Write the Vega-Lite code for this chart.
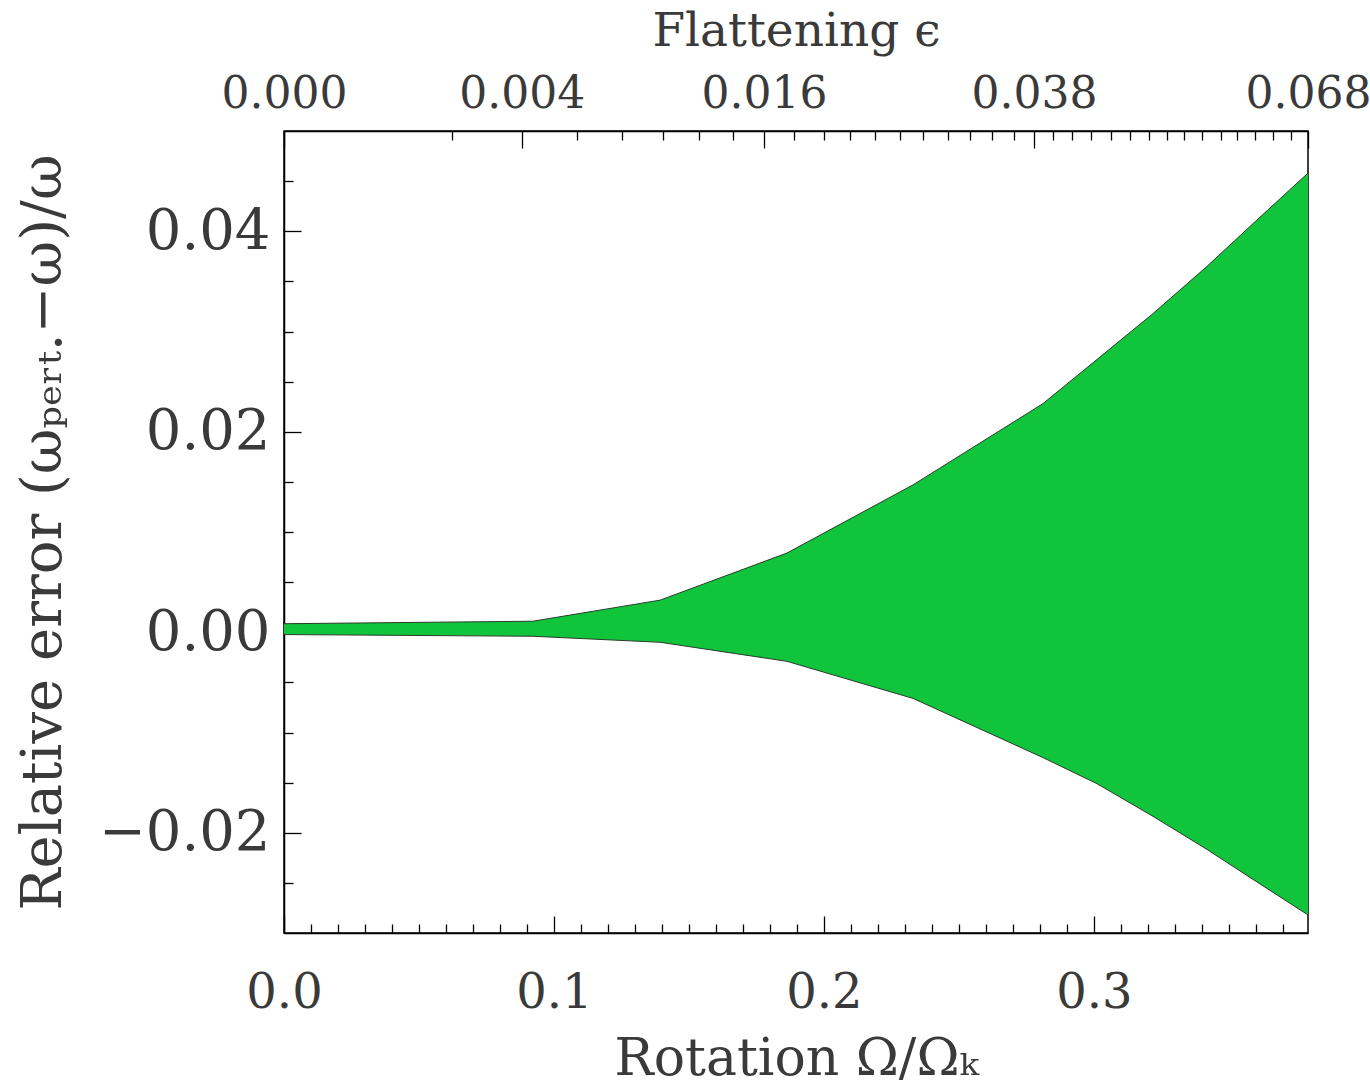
{
  "$schema": "https://vega.github.io/schema/vega-lite/v6.json",
  "autosize": "none",
  "width": 1024,
  "height": 802,
  "padding": {"left": 284, "top": 131, "right": 62, "bottom": 155},
  "background": "white",
  "config": {
    "view": {"stroke": "black", "strokeWidth": 1.5},
    "axis": {
      "grid": false,
      "domainColor": "black",
      "domainWidth": 1.5,
      "tickColor": "black",
      "tickWidth": 1.3,
      "labelFont": "DejaVu Serif",
      "labelFontSize": 46,
      "labelColor": "#3a3a3a",
      "titleFont": "DejaVu Serif",
      "titleFontSize": 50,
      "titleFontWeight": "normal",
      "titleColor": "#3a3a3a",
      "labelOverlap": false,
      "labelFlush": false
    }
  },
  "data": {
    "values": [
      {"omega": 0.0, "upper": 0.00085, "lower": -0.00023},
      {"omega": 0.0922, "upper": 0.0011, "lower": -0.0004},
      {"omega": 0.1393, "upper": 0.0032, "lower": -0.001},
      {"omega": 0.1863, "upper": 0.0079, "lower": -0.0029},
      {"omega": 0.233, "upper": 0.0147, "lower": -0.0066},
      {"omega": 0.2811, "upper": 0.0228, "lower": -0.0125},
      {"omega": 0.3011, "upper": 0.0272, "lower": -0.0151},
      {"omega": 0.3215, "upper": 0.0317, "lower": -0.0183},
      {"omega": 0.3415, "upper": 0.0364, "lower": -0.0216},
      {"omega": 0.3615, "upper": 0.0414, "lower": -0.0251},
      {"omega": 0.3793, "upper": 0.0458, "lower": -0.0282}
    ]
  },
  "resolve": {"axis": {"x": "independent", "y": "independent"}},
  "layer": [
    {
      "mark": {"type": "area", "color": "#10c43c", "opacity": 1},
      "encoding": {
        "x": {
          "field": "omega",
          "type": "quantitative",
          "scale": {"domain": [0, 0.3793], "nice": false, "zero": false},
          "axis": {
            "orient": "bottom",
            "title": "Rotation Ω/Ωₖ",
            "titleFontSize": 52,
            "labelFontSize": 48,
            "values": [0, 0.01, 0.02, 0.03, 0.04, 0.05, 0.06, 0.07, 0.08, 0.09, 0.1, 0.11, 0.12, 0.13, 0.14, 0.15, 0.16, 0.17, 0.18, 0.19, 0.2, 0.21, 0.22, 0.23, 0.24, 0.25, 0.26, 0.27, 0.28, 0.29, 0.3, 0.31, 0.32, 0.33, 0.34, 0.35, 0.36, 0.37],
            "format": ".1f",
            "labelExpr": "indexof([0, 0.1, 0.2, 0.3], datum.value) >= 0 ? datum.label : ''",
            "tickSize": {"condition": {"test": "indexof([0, 0.1, 0.2, 0.3], datum.value) >= 0", "value": -17}, "value": -9},
            "labelPadding": 53,
            "titlePadding": 8
          }
        },
        "y": {
          "field": "upper",
          "type": "quantitative",
          "scale": {"domain": [-0.03, 0.05], "nice": false, "zero": false},
          "axis": {
            "orient": "left",
            "title": "Relative error (ωₚₑᵣₜ.−ω)/ω",
            "titleFontSize": 56,
            "labelFontSize": 56,
            "values": [-0.025, -0.02, -0.015, -0.01, -0.005, 0, 0.005, 0.01, 0.015, 0.02, 0.025, 0.03, 0.035, 0.04, 0.045],
            "format": ".2f",
            "labelExpr": "indexof([-0.02, 0, 0.02, 0.04], datum.value) >= 0 ? datum.label : ''",
            "tickSize": {"condition": {"test": "indexof([-0.02, 0, 0.02, 0.04], datum.value) >= 0", "value": -17}, "value": -9},
            "labelPadding": 31,
            "titlePadding": 26
          }
        },
        "y2": {"field": "lower"}
      }
    },
    {
      "mark": {"type": "line", "color": "#2a3a2a", "strokeWidth": 1},
      "encoding": {
        "x": {
          "field": "omega",
          "type": "quantitative",
          "axis": {
            "orient": "top",
            "title": "Flattening ϵ",
            "titleFontSize": 47,
            "labelFontSize": 44,
            "values": [0, 0.0622, 0.0881, 0.1085, 0.1252, 0.1404, 0.1537, 0.1663, 0.1778, 0.1889, 0.2, 0.2096, 0.2189, 0.2281, 0.2367, 0.2459, 0.2541, 0.2622, 0.2704, 0.2778, 0.2848, 0.2919, 0.2989, 0.3063, 0.3133, 0.3204, 0.327, 0.3333, 0.34, 0.347, 0.353, 0.3596, 0.3663, 0.373, 0.3793],
            "labelExpr": "datum.value === 0 ? '0.000' : datum.value === 0.0881 ? '0.004' : datum.value === 0.1778 ? '0.016' : datum.value === 0.2778 ? '0.038' : datum.value === 0.3793 ? '0.068' : ''",
            "tickSize": {"condition": {"test": "indexof([0, 0.0881, 0.1778, 0.2778, 0.3793], datum.value) >= 0", "value": -17}, "value": -9},
            "labelPadding": 32,
            "titlePadding": 9
          }
        },
        "y": {"field": "upper", "type": "quantitative", "axis": null}
      }
    },
    {
      "mark": {"type": "line", "color": "#2a3a2a", "strokeWidth": 1},
      "encoding": {
        "x": {"field": "omega", "type": "quantitative", "axis": null},
        "y": {"field": "lower", "type": "quantitative", "axis": null}
      }
    }
  ]
}
